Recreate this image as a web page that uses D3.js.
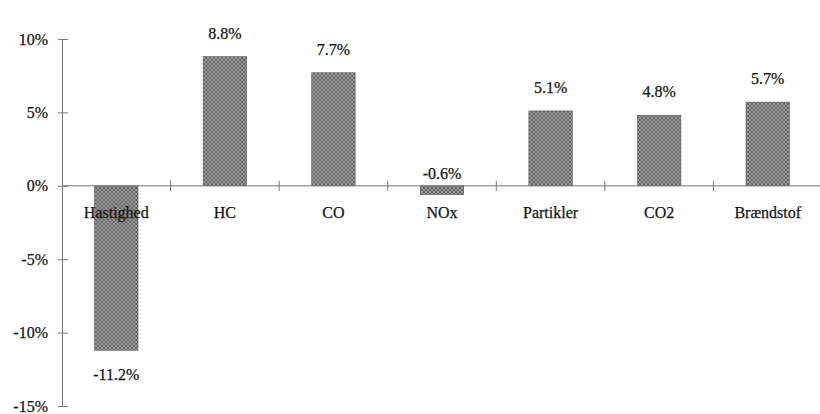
<!DOCTYPE html>
<html>
<head>
<meta charset="utf-8">
<script src="https://cdn.jsdelivr.net/npm/d3@7"></script>
<style>
  html, body { margin: 0; padding: 0; background: #fff; }
  svg { display: block; }
  text { font-family: "Liberation Serif", "Times New Roman", serif; fill: #141414; stroke: #141414; stroke-width: 0.25px; }
</style>
</head>
<body>
<svg id="chart" width="820" height="414"></svg>
<script>
// Relative change per parameter
const categories = ["Hastighed", "HC", "CO", "NOx", "Partikler", "CO2", "Brændstof"];
const values = [-11.2, 8.8, 7.7, -0.6, 5.1, 4.8, 5.7];
const valueLabels = ["-11.2%", "8.8%", "7.7%", "-0.6%", "5.1%", "4.8%", "5.7%"];
const yTicks = [10, 5, 0, -5, -10, -15];
const yTickLabels = ["10%", "5%", "0%", "-5%", "-10%", "-15%"];

const svg = d3.select("#chart");
const plotLeft = 62, plotRight = 822, plotTop = 39, plotBottom = 406;
const fontSize = 16;
const serif = '"Liberation Serif", "Times New Roman", serif';

const y = d3.scaleLinear().domain([-15, 10]).range([plotBottom, plotTop]);
const x = d3.scaleBand().domain(categories).range([plotLeft, plotRight])
  .paddingInner(0.6).paddingOuter(0.3);
const step = x.step();

// Cross-hatch fill for the bars
const defs = svg.append("defs");
const pat = defs.append("pattern")
  .attr("id", "hatch").attr("patternUnits", "userSpaceOnUse")
  .attr("width", 4).attr("height", 4);
pat.append("rect").attr("width", 4).attr("height", 4).attr("fill", "#9c9c9c");
pat.append("path").attr("d", "M0,0 L4,4 M4,0 L0,4")
  .attr("stroke", "#666").attr("stroke-width", 1);

// Bars
svg.append("g").selectAll("rect").data(categories).join("rect")
  .attr("x", d => x(d))
  .attr("width", x.bandwidth())
  .attr("y", (d, i) => y(Math.max(0, values[i])))
  .attr("height", (d, i) => Math.abs(y(values[i]) - y(0)))
  .attr("fill", "url(#hatch)")
  .attr("stroke", "#555").attr("stroke-width", 0.6);

// Y axis
const yAxis = svg.append("g").attr("transform", `translate(${plotLeft},0)`)
  .call(d3.axisLeft(y).tickValues(yTicks)
    .tickFormat((d, i) => yTickLabels[i]).tickSize(0).tickPadding(14));
yAxis.attr("font-family", serif).attr("font-size", fontSize);
yAxis.select(".domain").attr("stroke", "#777").attr("stroke-width", 1);
yAxis.selectAll(".tick text").attr("fill", "#141414");
yAxis.selectAll(".tick").append("line")
  .attr("x1", -4).attr("x2", 6).attr("stroke", "#777");

// X axis along the zero line with category labels
const xAxis = svg.append("g").attr("transform", `translate(0,${y(0)})`);
xAxis.append("line").attr("x1", plotLeft).attr("x2", plotRight)
  .attr("stroke", "#777").attr("stroke-width", 1);
const boundaries = d3.range(categories.length + 1).map(i => plotLeft + i * step);
xAxis.selectAll("line.tk").data(boundaries.slice(1)).join("line")
  .attr("class", "tk")
  .attr("x1", d => d).attr("x2", d => d)
  .attr("y1", -5).attr("y2", 5).attr("stroke", "#777");
xAxis.selectAll("text").data(categories).join("text")
  .attr("x", d => x(d) + x.bandwidth() / 2)
  .attr("y", 32)
  .attr("text-anchor", "middle")
  .attr("font-family", serif).attr("font-size", fontSize)
  .text(d => d);

// Value labels: above positive bars, below the long negative bar,
// and just above the axis for the small negative one
function labelY(v) {
  if (v >= 0) return y(v) - 18;
  if (v > -2) return y(0) - 7;
  return y(v) + 30;
}
svg.append("g").selectAll("text").data(categories).join("text")
  .attr("x", d => x(d) + x.bandwidth() / 2)
  .attr("y", (d, i) => labelY(values[i]))
  .attr("text-anchor", "middle")
  .attr("font-family", serif).attr("font-size", fontSize)
  .text((d, i) => valueLabels[i]);
</script>
</body>
</html>
